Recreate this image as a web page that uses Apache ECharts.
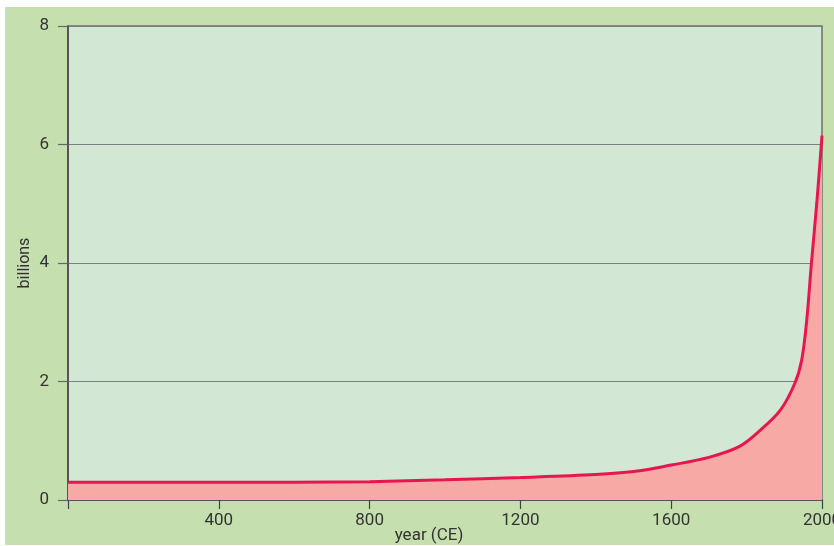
<!DOCTYPE html>
<html>
	<head>
		<meta charset="UTF-8">
		<title></title>
		<script src="https://cdn.jsdelivr.net/npm/echarts@6/dist/echarts.min.js"></script>
		<style>
			html, body { margin: 0; padding: 0; background: #fff; }
			#chart { position: absolute; left: 5px; top: 7px; width: 829px; height: 538px; }
		</style>
	</head>
	<body>
		<div id="chart"></div>
		<script type="text/javascript">
			// world population, billions
			var years = [0, 500, 600, 800, 1000, 1200, 1400, 1500, 1600, 1700, 1780, 1835, 1890, 1928, 1946, 1959, 1972, 1986, 2000];
			var population = [0.3, 0.3, 0.3, 0.31, 0.34, 0.38, 0.43, 0.48, 0.59, 0.72, 0.9, 1.17, 1.52, 1.97, 2.36, 3.0, 4.0, 5.0, 6.15];
			var xTicks = [0, 400, 800, 1200, 1600, 2000];
			var yTicks = [0, 2, 4, 6, 8];

			var font = "'Roboto', sans-serif";
			var textColor = '#333';

			var my_chart = echarts.init(document.getElementById('chart'));
			var seriesData = years.map(function(y, i) {
				return [y, population[i]];
			});

			var option = {
				backgroundColor: '#c6dfae',
				animation: false,
				grid: {
					left: 63,
					right: 12,
					top: 19,
					bottom: 45,
					containLabel: false,
					outerBoundsMode: 'none',
					show: true,
					backgroundColor: '#d2e8d4',
					borderColor: '#6e6e6e',
					borderWidth: 1.5
				},
				xAxis: {
					type: 'value',
					min: xTicks[0],
					max: xTicks[xTicks.length - 1],
					interval: 400,
					name: 'year (CE)',
					nameLocation: 'middle',
					nameGap: 27,
					nameMoveOverlap: false,
					nameTextStyle: {
						fontFamily: font,
						fontSize: 17,
						color: textColor,
						padding: [0, 32, 0, 0]
					},
					axisLine: { show: true, lineStyle: { color: '#444', width: 1.5 } },
					axisTick: { show: true, length: 9, lineStyle: { color: '#444', width: 1.2 } },
					axisLabel: {
						fontFamily: font,
						fontSize: 17,
						color: textColor,
						margin: 12,
						formatter: function(v) {
							return v === 0 ? '' : String(v);
						}
					},
					splitLine: { show: false }
				},
				yAxis: {
					type: 'value',
					min: yTicks[0],
					max: yTicks[yTicks.length - 1],
					interval: 2,
					name: 'billions',
					nameLocation: 'middle',
					nameGap: 35,
					nameMoveOverlap: false,
					nameTextStyle: {
						fontFamily: font,
						fontSize: 16,
						color: textColor
					},
					axisLine: { show: true, lineStyle: { color: '#444', width: 1.5 } },
					axisTick: { show: true, inside: false, length: 10, lineStyle: { color: '#666', width: 1.2 } },
					axisLabel: {
						fontFamily: font,
						fontSize: 17,
						color: textColor,
						margin: 19
					},
					splitLine: { show: true, lineStyle: { color: '#7d807d', width: 1.2 } }
				},
				series: [{
					type: 'line',
					data: seriesData,
					smooth: 0.35,
					showSymbol: false,
					lineStyle: { color: '#e8164f', width: 3 },
					areaStyle: { color: '#f7a9a6', opacity: 1 }
				}]
			};
			my_chart.setOption(option);
		</script>
	</body>
</html>
